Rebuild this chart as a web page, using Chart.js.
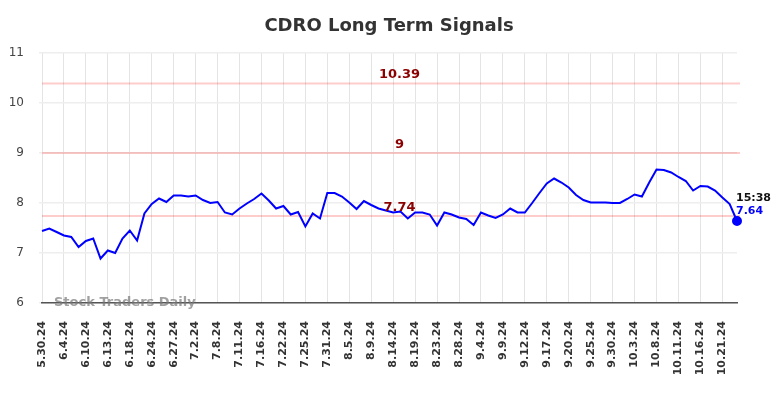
<!DOCTYPE html>
<html>
<head>
<meta charset="utf-8">
<script src="https://cdn.jsdelivr.net/npm/chart.js@4.4.1/dist/chart.umd.min.js"></script>
<style>
  html, body { margin: 0; padding: 0; background: #fff; }
  #wrap { width: 784px; height: 398px; }
</style>
</head>
<body>
<div id="wrap"><canvas id="signalChart" width="784" height="398"></canvas></div>
<script>
// Datas (pregões) e preços de fechamento
const dates = [
  '5.30.24', '5.31.24', '6.3.24', '6.4.24', '6.5.24', '6.7.24',
  '6.10.24', '6.11.24', '6.12.24', '6.13.24', '6.14.24', '6.17.24',
  '6.18.24', '6.20.24', '6.21.24', '6.24.24', '6.25.24', '6.26.24',
  '6.27.24', '6.28.24', '7.1.24', '7.2.24', '7.3.24', '7.5.24',
  '7.8.24', '7.9.24', '7.10.24', '7.11.24', '7.12.24', '7.15.24',
  '7.16.24', '7.17.24', '7.18.24', '7.22.24', '7.23.24', '7.24.24',
  '7.25.24', '7.26.24', '7.29.24', '7.31.24', '8.1.24', '8.2.24',
  '8.5.24', '8.6.24', '8.7.24', '8.9.24', '8.12.24', '8.13.24',
  '8.14.24', '8.15.24', '8.16.24', '8.19.24', '8.20.24', '8.21.24',
  '8.23.24', '8.26.24', '8.27.24', '8.28.24', '8.29.24', '8.30.24',
  '9.4.24', '9.5.24', '9.6.24', '9.9.24', '9.10.24', '9.11.24',
  '9.12.24', '9.13.24', '9.16.24', '9.17.24', '9.18.24', '9.19.24',
  '9.20.24', '9.23.24', '9.24.24', '9.25.24', '9.26.24', '9.27.24',
  '9.30.24', '10.1.24', '10.2.24', '10.3.24', '10.4.24', '10.7.24',
  '10.8.24', '10.9.24', '10.10.24', '10.11.24', '10.14.24', '10.15.24',
  '10.16.24', '10.17.24', '10.18.24', '10.21.24', '10.22.24', '10.23.24'
];

const prices = [
  7.44, 7.49, 7.42, 7.35, 7.32, 7.12, 7.24, 7.29, 6.89, 7.05,
  7.00, 7.29, 7.45, 7.25, 7.79, 7.98, 8.09, 8.02, 8.15, 8.15,
  8.13, 8.15, 8.06, 8.00, 8.02, 7.81, 7.77, 7.89, 7.99, 8.08,
  8.19, 8.05, 7.89, 7.94, 7.77, 7.82, 7.53, 7.79, 7.69, 8.20,
  8.20, 8.13, 8.01, 7.88, 8.04, 7.96, 7.89, 7.85, 7.81, 7.83,
  7.69, 7.81, 7.81, 7.77, 7.55, 7.81, 7.77, 7.71, 7.68, 7.56,
  7.81, 7.75, 7.70, 7.77, 7.89, 7.81, 7.81, 8.00, 8.20, 8.39,
  8.49, 8.41, 8.31, 8.16, 8.06, 8.01, 8.01, 8.01, 8.00, 8.00,
  8.08, 8.17, 8.13, 8.41, 8.67, 8.66, 8.61, 8.52, 8.44, 8.25,
  8.34, 8.33, 8.25, 8.11, 7.98, 7.64
];

// Níveis de sinal (linhas horizontais)
const signalLevels = [10.39, 9, 7.74];
const signalLabels = ['10.39', '9', '7.74'];

// Eixo Y
const yTicks = [6, 7, 8, 9, 10, 11];

const lastTime = '15:38';
const lastLabel = '7.64';

// Plugin: título, linhas de sinal, marca d'água e rótulo do último ponto
const overlayPlugin = {
  id: 'overlay',
  beforeDatasetsDraw(chart) {
    const { ctx, chartArea, scales } = chart;
    ctx.save();
    ctx.strokeStyle = 'rgba(255, 0, 0, 0.2)';
    ctx.lineWidth = 2;
    signalLevels.forEach(v => {
      const y = scales.y.getPixelForValue(v);
      ctx.beginPath();
      ctx.moveTo(chartArea.left, y);
      ctx.lineTo(chartArea.right + 3, y);
      ctx.stroke();
    });
    ctx.restore();
  },
  afterDraw(chart) {
    const { ctx, chartArea, scales } = chart;
    ctx.save();

    // título
    ctx.fillStyle = '#333';
    ctx.font = 'bold 18px "DejaVu Sans"';
    ctx.textAlign = 'center';
    ctx.textBaseline = 'middle';
    ctx.fillText('CDRO Long Term Signals', 389, 26);

    // rótulos dos sinais
    const cx = (chartArea.left + chartArea.right) / 2 + 10;
    ctx.fillStyle = '#8b0000';
    ctx.font = 'bold 13px "DejaVu Sans"';
    ctx.textBaseline = 'bottom';
    signalLevels.forEach((v, i) => {
      const y = scales.y.getPixelForValue(v);
      ctx.fillText(signalLabels[i], cx, y - 2);
    });

    // marca d'água
    ctx.fillStyle = 'rgba(120, 120, 120, 0.7)';
    ctx.font = 'bold 13px "DejaVu Sans"';
    ctx.textAlign = 'left';
    ctx.textBaseline = 'middle';
    ctx.fillText('Stock Traders Daily', chartArea.left + 12, chartArea.bottom);

    // último ponto
    const meta = chart.getDatasetMeta(0);
    const last = meta.data[meta.data.length - 1];
    ctx.font = 'bold 11px "DejaVu Sans"';
    ctx.fillStyle = '#111';
    ctx.fillText(lastTime, last.x - 1, last.y - 23);
    ctx.fillStyle = '#0000ff';
    ctx.fillText(lastLabel, last.x - 1, last.y - 10);

    ctx.restore();
  }
};

const config = {
  type: 'line',
  data: {
    labels: dates,
    datasets: [{
      data: prices,
      borderColor: '#0000ff',
      backgroundColor: '#0000ff',
      borderWidth: 2,
      tension: 0,
      pointRadius: ctx => ctx.dataIndex === prices.length - 1 ? 4 : 0,
      pointHoverRadius: 0
    }]
  },
  options: {
    responsive: false,
    animation: false,
    events: [],
    layout: {
      padding: { top: 53, right: 47, left: 0, bottom: 0 }
    },
    plugins: {
      legend: { display: false },
      title: { display: false },
      tooltip: { enabled: false }
    },
    scales: {
      x: {
        afterBuildTicks: scale => {
          scale.ticks = scale.ticks.filter((t, i) => i % 3 === 0);
        },
        afterFit: scale => { scale.height = 95; },
        grid: {
          color: '#e4e4e4',
          drawTicks: false
        },
        border: { color: '#555', width: 1.5 },
        ticks: {
          autoSkip: false,
          minRotation: 90,
          maxRotation: 90,
          padding: 18,
          color: '#333',
          font: { family: 'DejaVu Sans', size: 11, weight: 'bold' }
        }
      },
      y: {
        min: 6,
        max: 11,
        afterBuildTicks: scale => {
          scale.ticks = yTicks.map(v => ({ value: v }));
        },
        afterFit: scale => { scale.width = 42; },
        grid: {
          color: '#eeeeee',
          lineWidth: 1.5,
          tickLength: 3
        },
        border: { display: false },
        ticks: {
          padding: 15,
          color: '#444',
          font: { family: 'DejaVu Sans', size: 12 }
        }
      }
    }
  },
  plugins: [overlayPlugin]
};

function initializeChart() {
  const ctx = document.getElementById('signalChart').getContext('2d');
  new Chart(ctx, config);
}

document.addEventListener('DOMContentLoaded', initializeChart);
</script>
</body>
</html>
